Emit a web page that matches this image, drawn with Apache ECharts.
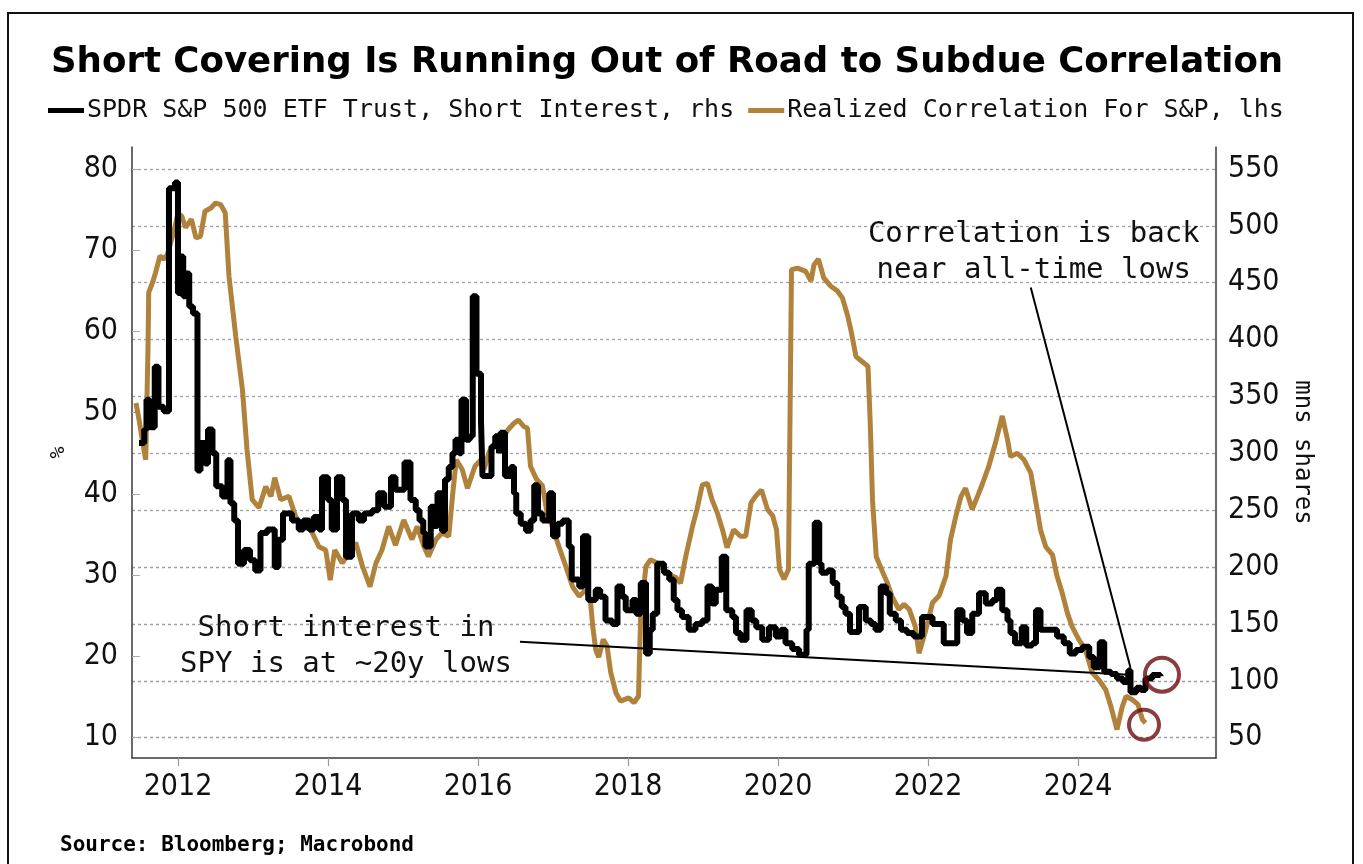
<!DOCTYPE html>
<html>
<head>
<meta charset="utf-8">
<script src="https://cdn.jsdelivr.net/npm/echarts@6/dist/echarts.min.js"></script>
<style>
html,body{margin:0;padding:0;background:#fff;}
#chart{width:1363px;height:864px;}
</style>
</head>
<body>
<div id="chart"></div>
<script>
// ---- Data ----
// Short interest (mns shares, right axis): [decimal year, value], step levels
const shortInterest = [
[2011.48,309],[2011.55,321],[2011.58,347],[2011.62,323],[2011.69,376],[2011.74,341],[2011.81,337],[2011.88,533],[2011.96,538],[2012.00,441],[2012.04,473],[2012.07,438],[2012.10,458],[2012.15,429],[2012.20,423],[2012.26,285],[2012.30,309],[2012.36,291],[2012.40,321],[2012.46,300],[2012.51,271],[2012.59,262],[2012.66,294],[2012.70,256],[2012.75,241],[2012.80,203],[2012.88,215],[2012.96,206],[2013.03,197],[2013.10,230],[2013.19,233],[2013.29,200],[2013.34,224],[2013.40,247],[2013.52,241],[2013.61,233],[2013.67,241],[2013.75,233],[2013.81,244],[2013.88,233],[2013.92,279],[2014.00,259],[2014.05,233],[2014.12,279],[2014.19,259],[2014.24,209],[2014.32,247],[2014.41,241],[2014.48,247],[2014.59,250],[2014.67,265],[2014.75,253],[2014.84,279],[2014.90,268],
[2015.02,292],[2015.10,259],[2015.17,250],[2015.22,241],[2015.27,230],[2015.30,218],[2015.37,253],[2015.41,236],[2015.46,265],[2015.52,232],[2015.56,277],[2015.61,288],[2015.66,300],[2015.70,312],[2015.75,300],[2015.78,347],[2015.84,312],[2015.89,315],[2015.93,438],[2015.98,370],[2016.04,329],[2016.06,280],[2016.18,306],[2016.23,315],[2016.28,300],[2016.30,318],[2016.36,280],[2016.44,288],[2016.48,265],[2016.51,247],[2016.57,238],[2016.64,232],[2016.70,241],[2016.75,272],[2016.80,247],[2016.86,241],[2016.95,265],[2017.00,227],[2017.06,238],[2017.13,241],[2017.21,218],[2017.25,189],[2017.35,183],[2017.40,227],[2017.47,171],[2017.57,180],[2017.63,174],[2017.70,153],[2017.79,150],[2017.86,183],[2017.92,174],[2017.97,162],[2018.06,171],[2018.11,159],[2018.17,186],[2018.24,124],[2018.29,145],[2018.33,159],[2018.39,203],[2018.48,195],[2018.55,189],
[2018.61,171],[2018.66,162],[2018.72,156],[2018.81,145],[2018.90,150],[2018.99,153],[2019.06,183],[2019.12,168],[2019.17,180],[2019.25,209],[2019.31,162],[2019.39,156],[2019.44,142],[2019.50,136],[2019.58,162],[2019.65,153],[2019.71,147],[2019.79,136],[2019.88,147],[2019.97,139],[2020.04,145],[2020.10,133],[2020.19,128],[2020.28,123],[2020.38,145],[2020.41,203],[2020.49,239],[2020.55,203],[2020.58,195],[2020.66,197],[2020.73,186],[2020.79,174],[2020.85,165],[2020.90,159],[2020.96,143],[2021.08,165],[2021.17,153],[2021.24,150],[2021.30,145],[2021.37,183],[2021.44,177],[2021.49,159],[2021.57,153],[2021.64,145],[2021.72,142],[2021.81,139],[2021.92,156],[2022.06,150],
[2022.15,150],[2022.21,133],[2022.39,162],[2022.46,153],[2022.52,142],[2022.59,159],[2022.68,177],[2022.77,168],[2022.86,171],[2022.92,180],[2022.99,162],[2023.06,153],[2023.10,142],[2023.16,133],[2023.25,147],[2023.31,131],[2023.39,133],[2023.44,162],[2023.50,145],[2023.61,145],[2023.72,139],[2023.81,133],[2023.89,124],[2023.97,127],[2024.06,130],[2024.15,121],[2024.21,112],[2024.29,134],[2024.35,108],[2024.44,106],[2024.52,102],[2024.60,99],[2024.67,109],[2024.70,90],[2024.78,94],[2024.84,92],[2024.90,102],[2024.99,105],[2025.10,104]
];

// Realized correlation (%, left axis): [decimal year, value]
const correlation = [
[2011.44,51.2],[2011.48,49.2],[2011.53,46.3],[2011.57,44.2],[2011.60,57.8],[2011.61,64.8],[2011.66,66.0],[2011.70,67.2],[2011.76,69.3],[2011.81,68.9],[2011.86,69.5],[2011.95,72.5],[2012.00,74.5],[2012.05,74.2],[2012.10,72.8],[2012.18,73.8],[2012.24,71.5],[2012.30,71.7],[2012.36,74.8],[2012.44,75.2],[2012.50,75.8],[2012.57,75.6],[2012.63,74.6],[2012.68,66.8],[2012.77,59.4],[2012.86,52.8],[2012.92,45.5],[2012.99,39.3],[2013.08,38.3],[2013.17,40.9],[2013.24,39.7],[2013.29,42.0],[2013.37,39.3],[2013.48,39.7],[2013.57,37.2],[2013.66,36.0],[2013.77,35.6],[2013.88,33.5],[2013.97,33.1],[2014.03,29.4],[2014.09,33.1],[2014.19,31.5],[2014.28,32.7],[2014.37,34.0],[2014.46,31.1],[2014.56,28.6],[2014.64,31.5],[2014.72,33.1],[2014.81,36.0],[2014.90,33.7],[2015.01,36.8],
[2015.12,34.4],[2015.19,36.0],[2015.28,33.5],[2015.34,32.3],[2015.44,34.4],[2015.52,35.2],[2015.61,34.8],[2015.66,39.7],[2015.71,44.2],[2015.79,43.0],[2015.86,40.7],[2015.96,43.4],[2016.04,44.2],[2016.08,43.0],[2016.15,45.2],[2016.24,46.3],[2016.32,46.7],[2016.40,47.9],[2016.48,48.7],[2016.54,49.1],[2016.61,48.3],[2016.66,48.1],[2016.70,43.4],[2016.78,41.8],[2016.86,41.0],[2016.92,37.7],[2016.99,36.0],[2017.08,33.5],[2017.17,31.1],[2017.26,28.6],[2017.35,27.4],[2017.44,28.2],[2017.50,26.8],[2017.53,23.7],[2017.57,20.8],[2017.61,19.9],[2017.67,22.1],[2017.72,21.3],[2017.77,18.0],[2017.84,15.5],[2017.90,14.5],[2018.01,14.9],[2018.08,14.3],[2018.14,15.1],[2018.17,25.3],[2018.24,31.1],[2018.30,31.9],[2018.39,31.5],[2018.48,30.7],[2018.59,29.9],
[2018.64,29.7],[2018.70,29.0],[2018.77,32.3],[2018.86,36.0],[2018.92,38.1],[2018.99,41.1],[2019.06,41.3],[2019.12,39.3],[2019.19,37.7],[2019.26,35.6],[2019.32,33.4],[2019.41,35.6],[2019.50,34.8],[2019.57,34.8],[2019.64,38.9],[2019.70,39.7],[2019.78,40.5],[2019.86,38.1],[2019.93,37.3],[2019.98,35.6],[2020.02,30.7],[2020.08,29.5],[2020.14,30.7],[2020.18,67.6],[2020.26,67.8],[2020.37,67.4],[2020.44,66.2],[2020.48,68.2],[2020.54,68.9],[2020.61,66.6],[2020.70,65.6],[2020.79,65.0],[2020.86,64.1],[2020.93,61.9],[2020.98,59.8],[2021.04,56.9],[2021.12,56.3],[2021.20,55.7],[2021.23,48.7],[2021.26,39.3],[2021.31,32.3],[2021.39,30.5],[2021.46,29.0],[2021.52,27.4],[2021.61,25.8],[2021.68,26.4],[2021.75,25.8],[2021.83,23.7],[2021.88,20.4],[2021.96,22.9],[2022.06,26.6],[2022.15,27.5],
[2022.24,29.9],[2022.30,34.4],[2022.37,37.2],[2022.44,39.7],[2022.50,40.7],[2022.59,38.1],[2022.66,39.7],[2022.72,41.1],[2022.81,43.4],[2022.90,46.3],[2022.99,49.6],[2023.06,46.7],[2023.10,44.6],[2023.19,45.0],[2023.28,44.2],[2023.37,42.6],[2023.44,38.9],[2023.50,35.6],[2023.57,33.5],[2023.66,32.5],[2023.72,29.9],[2023.79,27.8],[2023.86,25.3],[2023.92,23.7],[2024.01,22.1],[2024.10,20.8],[2024.19,18.0],[2024.28,17.1],[2024.37,15.9],[2024.44,13.8],[2024.52,11.0],[2024.59,13.8],[2024.64,15.1],[2024.72,14.7],[2024.80,14.1],[2024.86,12.2],[2024.90,11.8]
];

// Tick labels
const yearTicks = [2012, 2014, 2016, 2018, 2020, 2022, 2024];
const leftTicks = [10, 20, 30, 40, 50, 60, 70, 80];
const rightTicks = [50, 100, 150, 200, 250, 300, 350, 400, 450, 500, 550];

// Annotations (data coordinates on the left axis)
const pointerShort = [[2016.56, 21.8], [2024.68, 17.75]];
const pointerCorr = [[2023.37, 65.4], [2024.70, 18.6]];
const circles = [[2025.12, 17.75, 34], [2024.88, 11.6, 30]];
const noteCorr = {x: 2023.41, y: 69.7, text: 'Correlation is back\nnear all-time lows'};
const noteShort = {x: 2014.24, y: 21.2, text: 'Short interest in\nSPY is at ~20y lows'};

const NAME_SI = 'SPDR S&P 500 ETF Trust, Short Interest, rhs';
const NAME_CORR = 'Realized Correlation For S&P, lhs';

const monoFont = "'DejaVu Sans Mono', monospace";
const tickFont = "'DejaVu Sans Condensed', 'Liberation Sans Narrow', sans-serif";
const axisColor = '#3a3a3a';

const chart = echarts.init(document.getElementById('chart'), null, {renderer: 'canvas'});

const option = {
  animation: false,
  backgroundColor: '#fff',
  title: [
    {
      text: 'Short Covering Is Running Out of Road to Subdue Correlation',
      left: 46, top: 40,
      textStyle: {fontFamily: "'DejaVu Sans', sans-serif", fontWeight: 'bold', fontSize: 35.6, color: '#000'}
    },
    {
      text: 'Source: Bloomberg; Macrobond',
      left: 55, top: 830,
      textStyle: {fontFamily: monoFont, fontWeight: 'bold', fontSize: 21, color: '#000'}
    }
  ],
  legend: {
    left: 48, top: 98,
    padding: 0,
    icon: 'rect',
    itemWidth: 36, itemHeight: 5, itemGap: 14,
    selectedMode: false,
    data: [NAME_SI, NAME_CORR],
    textStyle: {fontFamily: monoFont, fontSize: 25, color: '#111', padding: [0, 0, 0, -2]}
  },
  grid: {left: 132, right: 147, top: 147, bottom: 106},
  xAxis: {
    type: 'value',
    min: 2011.387, max: 2025.84,
    axisLine: {show: true, onZero: false, lineStyle: {color: axisColor, width: 1.5}},
    axisTick: {show: true, customValues: yearTicks, length: 8, lineStyle: {color: '#999', width: 1.2}},
    axisLabel: {customValues: yearTicks, formatter: v => String(v), fontFamily: tickFont, fontSize: 30, color: '#111', margin: 14},
    splitLine: {show: false}
  },
  yAxis: [
    {
      type: 'value', position: 'left',
      min: 7.5, max: 82.7,
      name: '%', nameLocation: 'middle', nameRotate: 90, nameGap: 63,
      nameTextStyle: {fontFamily: monoFont, fontSize: 20, color: '#111'},
      axisLine: {show: true, lineStyle: {color: axisColor, width: 1.5}},
      axisTick: {show: true, inside: true, customValues: leftTicks, length: 8, lineStyle: {color: '#aaa', width: 1}},
      axisLabel: {customValues: leftTicks, fontFamily: tickFont, fontSize: 30, color: '#111', margin: 14},
      splitLine: {show: false}
    },
    {
      type: 'value', position: 'right',
      min: 32.14, max: 569.3,
      name: 'mns shares', nameLocation: 'middle', nameRotate: -90, nameGap: 74,
      nameTextStyle: {fontFamily: monoFont, fontSize: 24, color: '#111'},
      axisLine: {show: true, lineStyle: {color: axisColor, width: 1.5}},
      axisTick: {show: false, customValues: rightTicks},
      axisLabel: {customValues: rightTicks, fontFamily: tickFont, fontSize: 30, color: '#111', margin: 12},
      splitLine: {show: true, lineStyle: {color: '#a0a0a0', width: 1.3, type: [3, 3]}}
    }
  ],
  series: [
    {
      name: NAME_CORR, type: 'line', yAxisIndex: 0,
      data: correlation, showSymbol: false, symbol: 'none',
      color: '#b0823c',
      lineStyle: {color: '#b0823c', width: 5},
      z: 2
    },
    {
      name: NAME_SI, type: 'line', yAxisIndex: 1,
      data: shortInterest, step: 'end', showSymbol: false, symbol: 'none',
      color: '#000',
      lineStyle: {color: '#000', width: 6},
      z: 3
    },
    {
      name: 'pointer1', type: 'line', yAxisIndex: 0, data: pointerShort,
      symbol: 'none', silent: true, lineStyle: {color: '#000', width: 2}, z: 5
    },
    {
      name: 'pointer2', type: 'line', yAxisIndex: 0, data: pointerCorr,
      symbol: 'none', silent: true, lineStyle: {color: '#000', width: 2}, z: 5
    },
    {
      name: 'circles', type: 'scatter', yAxisIndex: 0,
      data: circles.map(c => ({value: [c[0], c[1]], symbolSize: c[2]})),
      symbol: 'circle',
      itemStyle: {color: 'rgba(0,0,0,0)', borderColor: '#6e0b0e', borderWidth: 4},
      silent: true, z: 6
    }
  ]
};

chart.setOption(option);

const p1 = chart.convertToPixel({xAxisIndex: 0, yAxisIndex: 0}, [noteCorr.x, noteCorr.y]);
const p2 = chart.convertToPixel({xAxisIndex: 0, yAxisIndex: 0}, [noteShort.x, noteShort.y]);
const noteStyle = {fontFamily: monoFont, fontSize: 29, fill: '#111', align: 'center', verticalAlign: 'middle', lineHeight: 36};

chart.setOption({
  graphic: [
    {type: 'rect', shape: {x: 8, y: 13, width: 1345, height: 880}, style: {fill: 'none', stroke: '#111', lineWidth: 2}, silent: true, z: 0},
    {type: 'text', x: p1[0], y: p1[1], style: Object.assign({text: noteCorr.text}, noteStyle), z: 10},
    {type: 'text', x: p2[0], y: p2[1], style: Object.assign({text: noteShort.text}, noteStyle), z: 10}
  ]
});
</script>
</body>
</html>
